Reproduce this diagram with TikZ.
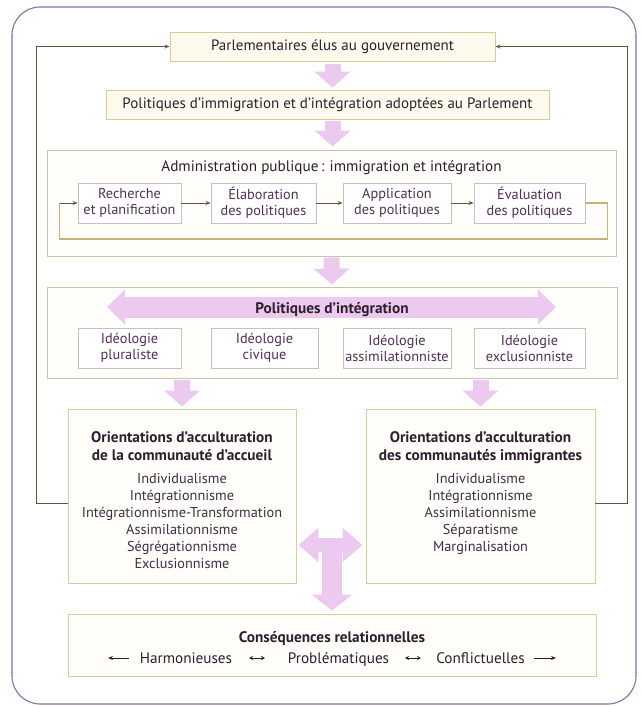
\documentclass[tikz,border=0pt]{standalone}
\usepackage{fontspec}
\setmainfont{PT Sans}
\usetikzlibrary{arrows.meta,calc}
\definecolor{pinkc}{HTML}{ECCAEF}
\definecolor{tanb}{HTML}{D6CC9E}
\definecolor{grayb}{HTML}{C9C2AE}
\definecolor{mauveb}{HTML}{CBBCCB}
\definecolor{txt}{HTML}{2E1F2E}
\definecolor{itemc}{HTML}{3E2F42}
\definecolor{subtxt}{HTML}{4E3252}
\definecolor{fbc}{HTML}{5E5840}
\definecolor{loopc}{HTML}{C8B27A}
\definecolor{outerc}{HTML}{8C6F9C}
\definecolor{cream}{HTML}{FFFAEE}
\definecolor{paper}{HTML}{FFFEFA}
\begin{document}
\begin{tikzpicture}[x=1pt,y=-1pt]
\tikzset{
  boxA/.style={draw=tanb, fill=cream, line width=0.9pt, text=txt, inner sep=0pt, font=\fontsize{15}{16}\selectfont},
  boxB/.style={draw=grayb, fill=paper, line width=0.9pt, inner sep=0pt},
  subbox/.style={draw=mauveb, fill=white, line width=0.9pt, minimum height=40pt, align=center, text=subtxt, inner sep=0pt, font=\fontsize{14.3}{16}\selectfont},
  orbox/.style={draw=tanb, fill=paper, line width=0.9pt, minimum height=174pt, inner sep=0pt},
  btitle/.style={anchor=base, text=txt, font=\bfseries\fontsize{15.3}{16}\selectfont, inner sep=0pt},
  ntitle/.style={anchor=base, text=txt, font=\fontsize{15.2}{16}\selectfont, inner sep=0pt},
  itemtxt/.style={anchor=base, text=itemc, font=\fontsize{14.3}{16}\selectfont, inner sep=0pt},
  parr/.style={draw=pinkc, line width=16pt, -{Triangle[width=35pt,length=16pt]}},
  fb/.style={draw=fbc, line width=0.8pt, -{Stealth[length=5pt,width=4pt]}},
  rowarr/.style={draw=txt, line width=0.8pt},
}
\useasboundingbox (0,0) rectangle (642,707);
\fill[white] (0,0) rectangle (642,707);
\draw[outerc, line width=1.1pt, rounded corners=28pt] (12,7) rectangle (636,704);

% top boxes
\node[boxA, minimum width=325pt, minimum height=29pt] (top) at (332.5,46.5) {Parlementaires élus au gouvernement};
\node[boxA, minimum width=443pt, minimum height=29pt] (imm) at (327.5,104.5) {Politiques d’immigration et d’intégration adoptées au Parlement};

% administration
\node[boxB, minimum width=569pt, minimum height=106pt] (adm) at (331.5,203) {};
\node[ntitle] (admt) at (331.5,171) {Administration publique\,: immigration et intégration};
\node[subbox, minimum width=103pt] (rech) at (129.5,203) {Recherche\\et planification};
\node[subbox, minimum width=105pt] (elab) at (263.5,203) {Élaboration\\des politiques};
\node[subbox, minimum width=108pt] (appl) at (397,203) {Application\\des politiques};
\node[subbox, minimum width=111pt] (eval) at (529.5,203) {Évaluation\\des politiques};
\draw[fb] (rech) -- (elab);
\draw[fb] (elab) -- (appl);
\draw[fb] (appl) -- (eval);
\draw[loopc, line width=1.3pt] (eval.east) -- ++(22,0) |- ($(rech.west)+(-18,36)$) -- ($(rech.west)+(-18,0)$) coordinate (lp);
\draw[fb] (lp) -- (rech.west);

% integration policies
\node[boxB, minimum width=570pt, minimum height=91pt] (integ) at (332,332.5) {};
\coordinate (dl) at (107,307);
\coordinate (dr) at (556,307);
\draw[pinkc, line width=21pt, {Triangle[width=34pt,length=18pt]}-{Triangle[width=34pt,length=18pt]}] (dl) -- (dr);
\node[btitle] (integt) at (332,313) {Politiques d’intégration};
\node[subbox, minimum width=103pt] (ip) at (129.5,348) {Idéologie\\pluraliste};
\node[subbox, minimum width=107pt] (ic) at (264.5,348) {Idéologie\\civique};
\node[subbox, minimum width=108pt] (ia) at (397,348) {Idéologie\\assimilationniste};
\node[subbox, minimum width=111pt] (ie) at (529.5,348) {Idéologie\\exclusionniste};

% orientation boxes
\node[orbox, minimum width=228pt] (lbox) at (182,496) {};
\node[orbox, minimum width=229pt] (rbox) at (480.5,496) {};
\node[btitle] (lt1) at (182,442) {Orientations d’acculturation};
\node[btitle] (lt2) at (182,460) {de la communauté d’accueil};
\foreach \t [count=\i] in {Individualisme,Intégrationnisme,Intégrationnisme-Transformation,Assimilationnisme,Ségrégationnisme,Exclusionnisme}
  \node[itemtxt] (li\i) at (182,466+17*\i) {\t};
\node[btitle] (rt1) at (480.5,442) {Orientations d’acculturation};
\node[btitle] (rt2) at (480.5,460) {des communautés immigrantes};
\foreach \t [count=\i] in {Individualisme,Intégrationnisme,Assimilationnisme,Séparatisme,Marginalisation}
  \node[itemtxt] (ri\i) at (480.5,466+17*\i) {\t};

% pink arrows
\draw[parr, shorten <=3pt, shorten >=2pt] (top.south) -- (top.south |- imm.north);
\draw[parr, shorten <=2pt, shorten >=3pt] (top.south |- imm.south) -- (top.south |- adm.north);
\draw[parr, shorten <=1pt, shorten >=2pt] (adm.south) -- (integ.north);
\draw[parr, shorten <=2pt, shorten >=2pt] (integ.south -| lbox.north) -- (lbox.north);
\draw[parr, shorten <=2pt, shorten >=2pt] (integ.south -| rbox.north) -- (rbox.north);

% bottom box
\node[boxA, fill=paper, minimum width=528pt, minimum height=62pt] (bot) at (332,645) {};
\node[btitle] (bott) at (332,642) {Conséquences relationnelles};
\node[ntitle] (harm) at (186,663) {Harmonieuses};
\node[ntitle] (prob) at (338.5,663) {Problématiques};
\node[ntitle] (conf) at (480.5,663) {Conflictuelles};
\coordinate (a0) at (108,658);
\coordinate (a0b) at (129,658);
\coordinate (a1) at (249,658);
\coordinate (a2) at (265,658);
\coordinate (a3) at (405,658);
\coordinate (a4) at (421,658);
\coordinate (a5) at (534,658);
\coordinate (a6) at (556,658);
\draw[rowarr, -{Stealth[length=5pt,width=4pt]}] (a0b) -- (a0);
\draw[rowarr, {Stealth[length=4pt,width=4pt]}-{Stealth[length=4pt,width=4pt]}] (a1) -- (a2);
\draw[rowarr, {Stealth[length=4pt,width=4pt]}-{Stealth[length=4pt,width=4pt]}] (a3) -- (a4);
\draw[rowarr, -{Stealth[length=5pt,width=4pt]}] (a5) -- (a6);

% T arrow
\coordinate (tY) at (0,545);
\draw[pinkc, line width=20pt, -{Triangle[width=40pt,length=16pt]}, shorten >=3pt] (bot.north |- tY) -- (bot.north);
\draw[pinkc, line width=14pt, {Triangle[width=33pt,length=20pt]}-{Triangle[width=33pt,length=20pt]}, shorten <=2pt, shorten >=3pt] (lbox.east |- tY) -- (rbox.west |- tY);

% feedback lines
\draw[fb] ([yshift=-7pt]lbox.west) -- ++(-31,0) |- (top.west);
\draw[fb] ([yshift=-7pt]rbox.east) -- ++(32,0) |- (top.east);
\end{tikzpicture}
\end{document}
